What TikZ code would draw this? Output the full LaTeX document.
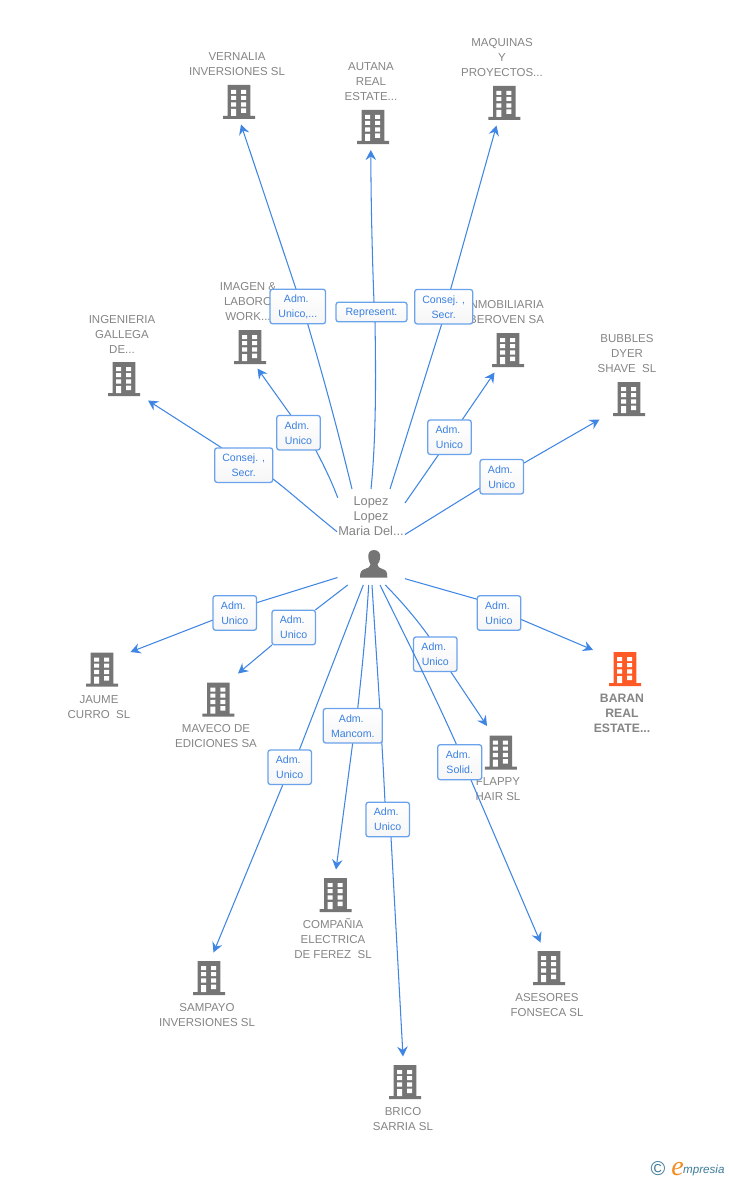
\documentclass[tikz,border=0pt]{standalone}
\usepackage{fontspec}
\setmainfont{Liberation Sans}
\newfontfamily\logoserif{Liberation Serif}
\usetikzlibrary{arrows.meta,calc}
\definecolor{linkblue}{HTML}{3F86E4}
\definecolor{boxblue}{HTML}{6AA3EC}
\definecolor{boxtext}{HTML}{3A80E2}
\definecolor{iconC}{HTML}{757575}
\definecolor{nameC}{HTML}{858585}
\definecolor{hotC}{HTML}{FF5A26}
\definecolor{logoT}{HTML}{3E7C99}
\definecolor{logoO}{HTML}{F58A1F}
\newcommand\admword{Adm.\kern3pt}
\newcommand\dblsp{\kern6.4pt}
\tikzset{
  link/.style={draw=linkblue,line width=1.05pt},
  tip/.style={link,-{Stealth[length=10pt,width=10.5pt,inset=3.5pt]}},
  rolebox/.style={draw=boxblue,line width=1.3pt,rounded corners=2.5pt,top color=white,bottom color=white!94!black!60!white,
    text=boxtext,inner sep=0pt,align=center,text depth=0pt,font=\fontsize{10.6}{15}\selectfont},
  orgname/.style={text=nameC,inner sep=0pt,align=center,font=\fontsize{11.5}{15}\selectfont},
  bldg/.pic={
    \fill[pic actions] (-11.3,-34) rectangle (11.3,-2) (-16,-3) rectangle (16,0);
    \fill[white] (-8,-29) rectangle (-3,-25) (2,-29) rectangle (7,-25)
      (-8,-23) rectangle (-3,-19) (2,-23) rectangle (7,-19)
      (-8,-16.7) rectangle (-3,-12.3) (2,-16.7) rectangle (7,-12.3)
      (-8,-10) rectangle (-3,-3) (2,-10.5) rectangle (7,-6);
  }
}
\begin{document}
\begin{tikzpicture}[x=1pt,y=-1pt]
\useasboundingbox (0,0) rectangle (728,1180);
\fill[white] (0,0) rectangle (728,1180);
% names
\node[orgname] (nVernalia) at (237,64.5) {VERNALIA\\INVERSIONES SL};
\node[orgname] (nAutana) at (371,82) {AUTANA\\REAL\\ESTATE...};
\node[orgname] (nMaquinas) at (502,58) {MAQUINAS\\Y\\PROYECTOS...};
\node[orgname] (nImagen) at (248,302) {IMAGEN \&\\LABORO\\WORK...};
\node[orgname] (nIngenieria) at (122,334) {INGENIERIA\\GALLEGA\\DE...};
\node[orgname] (nInmob) at (505,312.5) {INMOBILIARIA\\IBEROVEN SA};
\node[orgname] (nBubbles) at (627,354) {BUBBLES\\DYER\\SHAVE\dblsp SL};
\node[orgname,font=\fontsize{12.8}{15}\selectfont] (nLopez) at (371,516) {Lopez\\Lopez\\Maria Del...};
\node[orgname] (nJaume) at (99,707.5) {JAUME\\CURRO\dblsp SL};
\node[orgname] (nMaveco) at (216,736.5) {MAVECO DE\\EDICIONES SA};
\node[orgname,font=\bfseries\fontsize{12.2}{15}\selectfont] (nBaran) at (622,713) {BARAN\\REAL\\ESTATE...};
\node[orgname] (nFlappy) at (498,789.5) {FLAPPY\\HAIR SL};
\node[orgname] (nCompania) at (333,938.5) {COMPAÑIA\\ELECTRICA\\DE FEREZ\dblsp SL};
\node[orgname] (nSampayo) at (207,1015.5) {SAMPAYO\\INVERSIONES SL};
\node[orgname] (nAsesores) at (547,1005.5) {ASESORES\\FONSECA SL};
\node[orgname] (nBrico) at (403,1119.5) {BRICO\\SARRIA SL};
% icons
\pic[iconC,fill=iconC] at (239,119) {bldg};
\pic[iconC,fill=iconC] at (373,144) {bldg};
\pic[iconC,fill=iconC] at (504.3,120) {bldg};
\pic[iconC,fill=iconC] at (250,364) {bldg};
\pic[iconC,fill=iconC] at (124,396) {bldg};
\pic[iconC,fill=iconC] at (508,367) {bldg};
\pic[iconC,fill=iconC] at (629,416) {bldg};
\pic[iconC,fill=iconC] at (102,686.5) {bldg};
\pic[iconC,fill=iconC] at (218.4,716.5) {bldg};
\pic[hotC,fill=hotC] at (625,686) {bldg};
\pic[iconC,fill=iconC] at (500.8,769.5) {bldg};
\pic[iconC,fill=iconC] at (335.5,912) {bldg};
\pic[iconC,fill=iconC] at (209,995) {bldg};
\pic[iconC,fill=iconC] at (549,985) {bldg};
\pic[iconC,fill=iconC] at (405,1099) {bldg};
% person
\fill[iconC] (374,550) .. controls (369.5,550) and (368,553.5) .. (368.3,557)
  .. controls (368.5,561) and (370,563) .. (370.5,564.5)
  .. controls (370.5,567) and (368,568) .. (365,569)
  .. controls (361.5,570) and (360,571.5) .. (360,577.5) -- (387.3,577.5)
  .. controls (387.3,571.5) and (386,570) .. (382.5,569)
  .. controls (379.5,568) and (377.5,567) .. (377.5,564.5)
  .. controls (378.5,563) and (380,561) .. (380.2,557)
  .. controls (380.5,553.5) and (378.5,550) .. (374,550) -- cycle;
% free ends
\coordinate (sVernalia) at (352,489); \coordinate (tVernalia) at (241,124.5);
\coordinate (sAutana) at (371,489);  \coordinate (tAutana) at (370.8,150);
\coordinate (sMaquinas) at (390,489); \coordinate (tMaquinas) at (496.5,125.5);
\coordinate (sImagen) at (337.7,497.7); \coordinate (tImagen) at (257.5,368.5);
\coordinate (sIngen) at (337,531.7); \coordinate (tIngen) at (148,400.5);
\coordinate (sInmob) at (405,503); \coordinate (tInmob) at (494.5,372.5);
\coordinate (sBubbles) at (405,534.5); \coordinate (tBubbles) at (599.5,419.5);
\coordinate (sJaume) at (337.5,577.5); \coordinate (tJaume) at (130.5,652);
\coordinate (sMaveco) at (347.7,585); \coordinate (tMaveco) at (238,673.5);
\coordinate (sSampayo) at (363.3,585); \coordinate (tSampayo) at (213.5,952.5);
\coordinate (sCompania) at (368.7,585); \coordinate (tCompania) at (336,869.5);
\coordinate (sBrico) at (372,585); \coordinate (tBrico) at (403,1056.5);
\coordinate (sAsesores) at (380,585); \coordinate (tAsesores) at (540.5,942.5);
\coordinate (sFlappy) at (385.3,585); \coordinate (tFlappy) at (487,726);
\coordinate (sBaran) at (405,578.7); \coordinate (tBaran) at (593,650);
% connectors
\path[link] (sVernalia) .. controls (340,440) and (330,400) .. (307.7,324);
\path[tip] (296,289) -- (tVernalia);
\path[link] (sAutana) .. controls (376,440) and (376,380) .. (375,322);
\path[tip] (374,302) .. controls (372,250) and (371,200) .. (tAutana);
\path[link] (sMaquinas) -- (441.7,324);
\path[tip] (450.7,289) -- (tMaquinas);
\path[link] (sImagen) .. controls (331,480) and (325,468) .. (315.7,450);
\path[tip] (290.7,415) -- (tImagen);
\path[link] (sIngen) .. controls (310,510) and (290,492) .. (273,479);
\path[tip] (222,448) -- (tIngen);
\path[link] (sInmob) -- (439,454);
\path[tip] (462,420) -- (tInmob);
\path[link] (sBubbles) -- (480,488);
\path[tip] (524,463) -- (tBubbles);
\path[link] (sJaume) -- (256.7,602.7);
\path[tip] (213,620) -- (tJaume);
\path[link] (sMaveco) -- (315.3,610);
\path[tip] (272,645) -- (tMaveco);
\path[link] (sSampayo) -- (299.3,750);
\path[tip] (282.7,785) -- (tSampayo);
\path[link] (sCompania) .. controls (366,630) and (362,670) .. (357.7,708.5);
\path[tip] (352.7,743) -- (tCompania);
\path[link] (sBrico) .. controls (376,650) and (381,720) .. (385,802);
\path[tip] (391,837) -- (tBrico);
\path[link] (sBaran) -- (477.3,599.3);
\path[tip] (520.7,619.3) -- (tBaran);
\path[link] (sFlappy) .. controls (400,600) and (415,617) .. (429.3,637);
\path[tip] (450.7,671.7) -- (tFlappy);
% role boxes
\node[rolebox,minimum width=43.5pt,minimum height=34.5pt] (bFlappy) at (435.3,654.2) {\admword\\Unico};
\path[link] (sAsesores) .. controls (398,622) and (430,685) .. (456.7,745);
\path[tip] (471,780) -- (tAsesores);
\node[rolebox,minimum width=55.5pt,minimum height=34.5pt] (bVernalia) at (297.8,306.5) {\admword\\Unico,...};
\node[rolebox,minimum width=71pt,minimum height=19.5pt] (bAutana) at (371.5,312) {Represent.};
\node[rolebox,minimum width=58pt,minimum height=34.5pt] (bMaquinas) at (443.7,306.7) {Consej. ,\\Secr.};
\node[rolebox,minimum width=43.5pt,minimum height=34.5pt] (bImagen) at (298.5,432.7) {\admword\\Unico};
\node[rolebox,minimum width=58pt,minimum height=34.5pt] (bIngen) at (243.7,465.2) {Consej. ,\\Secr.};
\node[rolebox,minimum width=43.5pt,minimum height=34.5pt] (bInmob) at (449.5,437.2) {\admword\\Unico};
\node[rolebox,minimum width=43.5pt,minimum height=34.5pt] (bBubbles) at (501.8,476.7) {\admword\\Unico};
\node[rolebox,minimum width=43.5pt,minimum height=34.5pt] (bJaume) at (234.8,613) {\admword\\Unico};
\node[rolebox,minimum width=43.5pt,minimum height=34.5pt] (bMaveco) at (293.7,627.5) {\admword\\Unico};
\node[rolebox,minimum width=43.5pt,minimum height=34.5pt] (bBaran) at (499,613) {\admword\\Unico};
\node[rolebox,minimum width=43.5pt,minimum height=34.5pt] (bSampayo) at (289.7,767.2) {\admword\\Unico};
\node[rolebox,minimum width=59pt,minimum height=34.5pt] (bCompania) at (352.8,725.8) {\admword\\Mancom.};
\node[rolebox,minimum width=43.5pt,minimum height=34.5pt] (bBrico) at (387.7,819.5) {\admword\\Unico};
\node[rolebox,minimum width=44pt,minimum height=35pt] (bAsesores) at (459.7,762.2) {\admword\\Solid.};
% logo
\node[inner sep=0pt,text=logoT,font=\fontsize{20}{20}\selectfont] (logoMark) at (658,1169) {©};
\node[inner sep=0pt,text=logoO,anchor=base,font=\logoserif\itshape\fontsize{28}{28}\selectfont] (logoE) at (677.5,1175) {e};
\node[inner sep=0pt,text=logoT,font=\itshape\fontsize{11.6}{12}\selectfont,anchor=base west] (logoWord) at (683,1173.5) {mpresia};
\end{tikzpicture}
\end{document}
